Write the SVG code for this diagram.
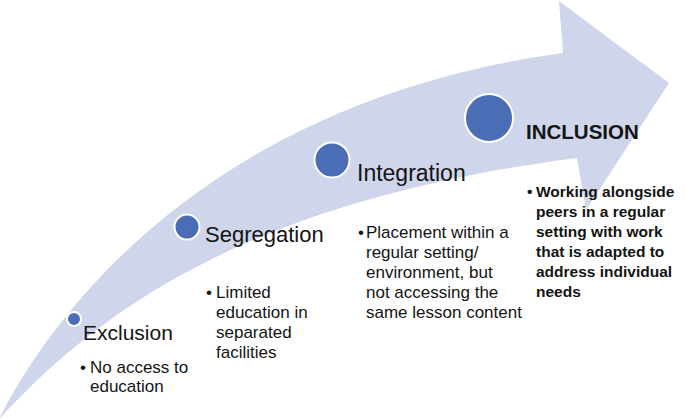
<svg xmlns="http://www.w3.org/2000/svg" width="685" height="419" viewBox="0 0 685 419">
<style>
.band{fill:#cfd5ea;stroke:none}
.dot{fill:#4a6db5;stroke:#ffffff;stroke-width:2}
.t{font-family:"Liberation Sans",Arial,sans-serif;fill:#141414}
.title{font-size:22px}
.body{font-size:17px}
.bold{font-weight:bold}
.ib{font-size:15.5px;font-weight:bold}
</style>
<rect width="685" height="419" fill="#ffffff"/>
<g id="arrow">
<path class="band" d="M0,417 C60,300 220,100 563,53 L559,1 L669,83 L586,210 L577,158 C250,200 100,310 0,418 Z"/>
</g>
<g id="connectors"></g>
<g id="exclusion">
<circle class="dot" cx="74" cy="319" r="7"/>
<text class="t" x="83" y="340" font-size="21">Exclusion</text>
<text class="t body" x="80" y="373">•</text>
<text class="t body" x="90" y="373">No access to</text>
<text class="t body" x="90" y="392">education</text>
</g>
<g id="segregation">
<circle class="dot" cx="187" cy="227" r="12.5"/>
<text class="t title" x="205" y="242">Segregation</text>
<text class="t body" x="206" y="298">•</text>
<text class="t body" x="216" y="298">Limited</text>
<text class="t body" x="216" y="318">education in</text>
<text class="t body" x="216" y="338">separated</text>
<text class="t body" x="216" y="358">facilities</text>
</g>
<g id="integration">
<circle class="dot" cx="332" cy="160" r="17.5"/>
<text class="t" x="357" y="181" font-size="23">Integration</text>
<text class="t body" x="358" y="238">•</text>
<text class="t body" x="366" y="238">Placement within a</text>
<text class="t body" x="366" y="258">regular setting/</text>
<text class="t body" x="366" y="278">environment, but</text>
<text class="t body" x="366" y="298">not accessing the</text>
<text class="t body" x="366" y="318">same lesson content</text>
</g>
<g id="inclusion">
<circle class="dot" cx="489" cy="118" r="24"/>
<text class="t bold" x="526" y="139" font-size="20.5">INCLUSION</text>
<text class="t ib" x="527" y="197">•</text>
<text class="t ib" x="536" y="197">Working alongside</text>
<text class="t ib" x="536" y="217">peers in a regular</text>
<text class="t ib" x="536" y="237">setting with work</text>
<text class="t ib" x="536" y="257">that is adapted to</text>
<text class="t ib" x="536" y="277">address individual</text>
<text class="t ib" x="536" y="297">needs</text>
</g>
</svg>
